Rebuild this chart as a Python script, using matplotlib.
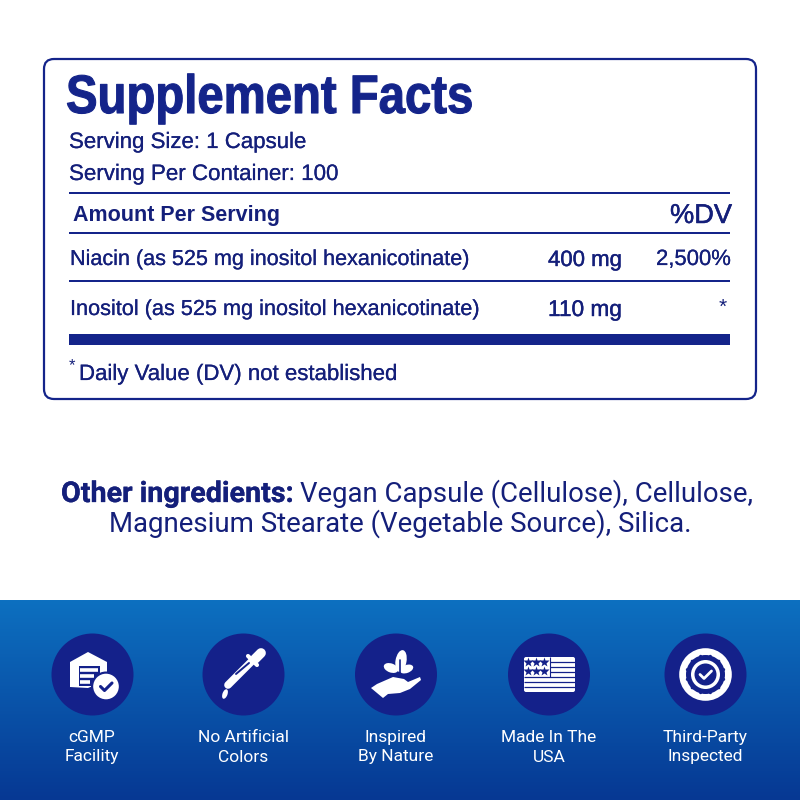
import numpy as np
import matplotlib
matplotlib.use("Agg")
import matplotlib.pyplot as plt
import matplotlib.patheffects as pe
from matplotlib.patches import Circle, FancyBboxPatch, Polygon, Rectangle, Ellipse
from matplotlib.transforms import Affine2D

NAVY = "#14248a"
TXT = "#141f7a"
rows = ["Niacin (as 525 mg inositol hexanicotinate)", "Inositol (as 525 mg inositol hexanicotinate)"]
amounts = ["400 mg", "110 mg"]
dvs = ["2,500%", "*"]
badges = [("cGMP", "Facility"), ("No Artificial", "Colors"), ("Inspired", "By Nature"),
          ("Made In The", "USA"), ("Third-Party", "Inspected")]
badge_x = [92.5, 243.5, 396, 549, 705.5]
label_x = [92, 243.5, 396, 549, 705]

fig = plt.figure(figsize=(8, 8), dpi=100)
ax = fig.add_axes([0, 0, 1, 1])
ax.set_xlim(0, 800); ax.set_ylim(800, 0); ax.axis("off")
r = fig.canvas.get_renderer()


class SqueezeX(pe.AbstractPathEffect):
    """Draw text narrower than the font's natural width, about a fixed pixel x."""
    def __init__(self, x0, sx, stroke=0.0):
        super().__init__()
        self.x0, self.sx, self.stroke = x0, sx, stroke

    def draw_path(self, renderer, gc, tpath, affine, rgbFace=None):
        tr = affine + Affine2D().translate(-self.x0, 0).scale(self.sx, 1).translate(self.x0, 0)
        gc0 = renderer.new_gc()
        gc0.copy_properties(gc)
        gc0.set_linewidth(self.stroke)
        gc0.set_foreground(rgbFace)
        renderer.draw_path(gc0, tpath, tr, rgbFace)
        gc0.restore()


def fit(s, x0, x1, y, family="Liberation Sans", weight="normal", color=TXT, stroke=0.0):
    t = ax.text(x0, y, s, family=family, weight=weight, color=color, fontsize=20, va="baseline", ha="left")
    w = t.get_window_extent(r).width
    t.set_fontsize(20 * (x1 - x0) / w)
    if stroke:
        t.set_path_effects([pe.withStroke(linewidth=stroke, foreground=color)])
    return t


# gradient
top = np.array([0x0d, 0x70, 0xc0]) / 255
bot = np.array([0x06, 0x38, 0x93]) / 255
f = np.linspace(0, 1, 200)[:, None, None]
ax.imshow(top * (1 - f) + bot * f, extent=[0, 800, 800, 600], aspect="auto", zorder=0)
ax.set_xlim(0, 800); ax.set_ylim(800, 0)

# frame
ax.add_patch(FancyBboxPatch((44, 59), 712, 340, boxstyle="round,pad=0,rounding_size=10",
                            fc="white", ec=NAVY, lw=1.6, zorder=1))
for y, h in [(193, 2.2), (233.3, 1.7), (280.7, 1.7)]:
    ax.add_patch(Rectangle((69, y - h / 2), 661, h, fc=NAVY, ec="none", zorder=2))
ax.add_patch(Rectangle((69, 334.3), 661, 11, fc=NAVY, ec="none", zorder=2))

# title: bold, condensed by a path effect to the reference's proportions
title = ax.text(66, 113, "Supplement Facts", family="Liberation Sans", weight="bold", color=NAVY,
                fontsize=39, va="baseline", ha="left")
tw = title.get_window_extent(r).width
title.set_path_effects([SqueezeX(66, 407 / tw, stroke=0.8)])

S = 0.15
fit("Serving Size: 1 Capsule", 69, 306, 148, stroke=S)
fit("Serving Per Container: 100", 69, 338, 180, stroke=S)
fit("Amount Per Serving", 73, 280, 221, weight="bold")
fit("%DV", 670, 732, 223, stroke=0.35)
fit(rows[0], 70, 469, 265, stroke=S)
fit(rows[1], 70, 479, 315, stroke=S)
fit(amounts[0], 548, 622, 266, stroke=0.3)
fit(amounts[1], 548, 622, 316, stroke=0.3)
fit(dvs[0], 656, 731, 265, stroke=S)
ax.text(727, 313, dvs[1], family="Liberation Sans", color=TXT, fontsize=15, ha="right", va="baseline")
ax.text(68.5, 370, "*", family="Liberation Sans", color=TXT, fontsize=12, va="baseline")
fit("Daily Value (DV) not established", 79, 397, 380, stroke=S)

fit("Other ingredients:", 61, 293, 502, family="Roboto", weight="bold", stroke=0.2)
fit("Vegan Capsule (Cellulose), Cellulose,", 300, 750, 502, family="Roboto")
fit("Magnesium Stearate (Vegetable Source), Silica.", 109, 690, 531.5, family="Roboto")

# badges
for cx, lx, (a, b) in zip(badge_x, label_x, badges):
    ax.add_patch(Circle((cx, 674.5), 41, fc="#14218a", ec="none", zorder=3))
    ax.text(lx, 742, a, family="Roboto", color="white", fontsize=12.5, ha="center", va="baseline", zorder=4)
    ax.text(lx, 761.5, b, family="Roboto", color="white", fontsize=12.5, ha="center", va="baseline", zorder=4)

W = "white"; N = "#14218a"
def P(pts, c=W, z=5): ax.add_patch(Polygon(pts, closed=True, fc=c, ec="none", zorder=z))
def L(xs, ys, c=W, lw=2, z=5, cap="round"):
    ax.plot(xs, ys, color=c, lw=lw, zorder=z, solid_capstyle=cap, solid_joinstyle="round")

# cGMP facility
P([(70, 662), (88, 652), (107, 662), (107, 680), (88, 688), (70, 687)])
P([(79, 666), (100, 666), (100, 686), (79, 686)], N, 5.5)
for y, x1 in [(670, 98), (676, 94), (682, 90)]:
    L([80, x1], [y, y], W, 2.6, 5.6, cap="butt")
ax.add_patch(Circle((106, 686.5), 15, fc=N, ec="none", zorder=5.7))
ax.add_patch(Circle((106, 686.5), 12.8, fc=W, ec="none", zorder=6))
L([100.5, 104.5, 112], [686.5, 690.5, 683], N, 2.2, 7)

# dropper
L([228, 252], [685, 661], W, 5.5)
L([248, 257], [656, 665], W, 3)
L([255, 261], [659, 653], W, 7)
L([236, 249], [674, 663], N, 1.4, 6)
ax.add_patch(Ellipse((225, 694), 5, 10, angle=20, fc=W, ec="none", zorder=5))

# hand with plant
P([(371, 688), (377, 684), (393, 677), (404, 679), (408, 682), (420, 677), (421, 680), (410, 689), (400, 693), (388, 694), (383, 698)])
ax.add_patch(Ellipse((401, 661), 11, 22, angle=10, fc=W, ec="none", zorder=5))
ax.add_patch(Ellipse((391, 668), 15, 9, angle=20, fc=W, ec="none", zorder=5))
ax.add_patch(Ellipse((406.5, 669), 14, 8, angle=-20, fc=W, ec="none", zorder=5))
L([400, 400], [660, 676], N, 1.2, 6)

# flag
ax.add_patch(FancyBboxPatch((524, 657), 51, 35, boxstyle="round,pad=0,rounding_size=2", fc=W, ec="none", zorder=5))
for y in [662, 667, 672, 677, 682, 687]:
    L([549.5 if y < 677 else 524, 575], [y, y], N, 0.9, 6, cap="butt")
L([549.5, 549.5], [657, 677], N, 0.8, 6, cap="butt")
for sx in [528, 536, 544]:
    for sy in [662, 671]:
        ax.plot(sx, sy, marker="*", ms=7, color=N, mec="none", zorder=8, ls="none")

# seal
ax.add_patch(Circle((705.5, 674.5), 26.3, fc=W, ec="none", zorder=5))
ax.add_patch(Circle((705.5, 674.5), 19.5, fc=N, ec="none", zorder=6))
for a in np.deg2rad(np.arange(0, 360, 30) + 15):
    ax.add_patch(Circle((705.5 + 18.8 * np.cos(a), 674.5 + 18.8 * np.sin(a)), 1.5, fc=N, ec="none", zorder=6))
ax.add_patch(Circle((705.5, 674.5), 14.5, fc=W, ec="none", zorder=7))
ax.add_patch(Circle((705.5, 674.5), 11, fc=N, ec="none", zorder=8))
L([700, 704, 711.5], [674.5, 678.5, 671], W, 2, 9)

fig.savefig("out.png", dpi=100)
